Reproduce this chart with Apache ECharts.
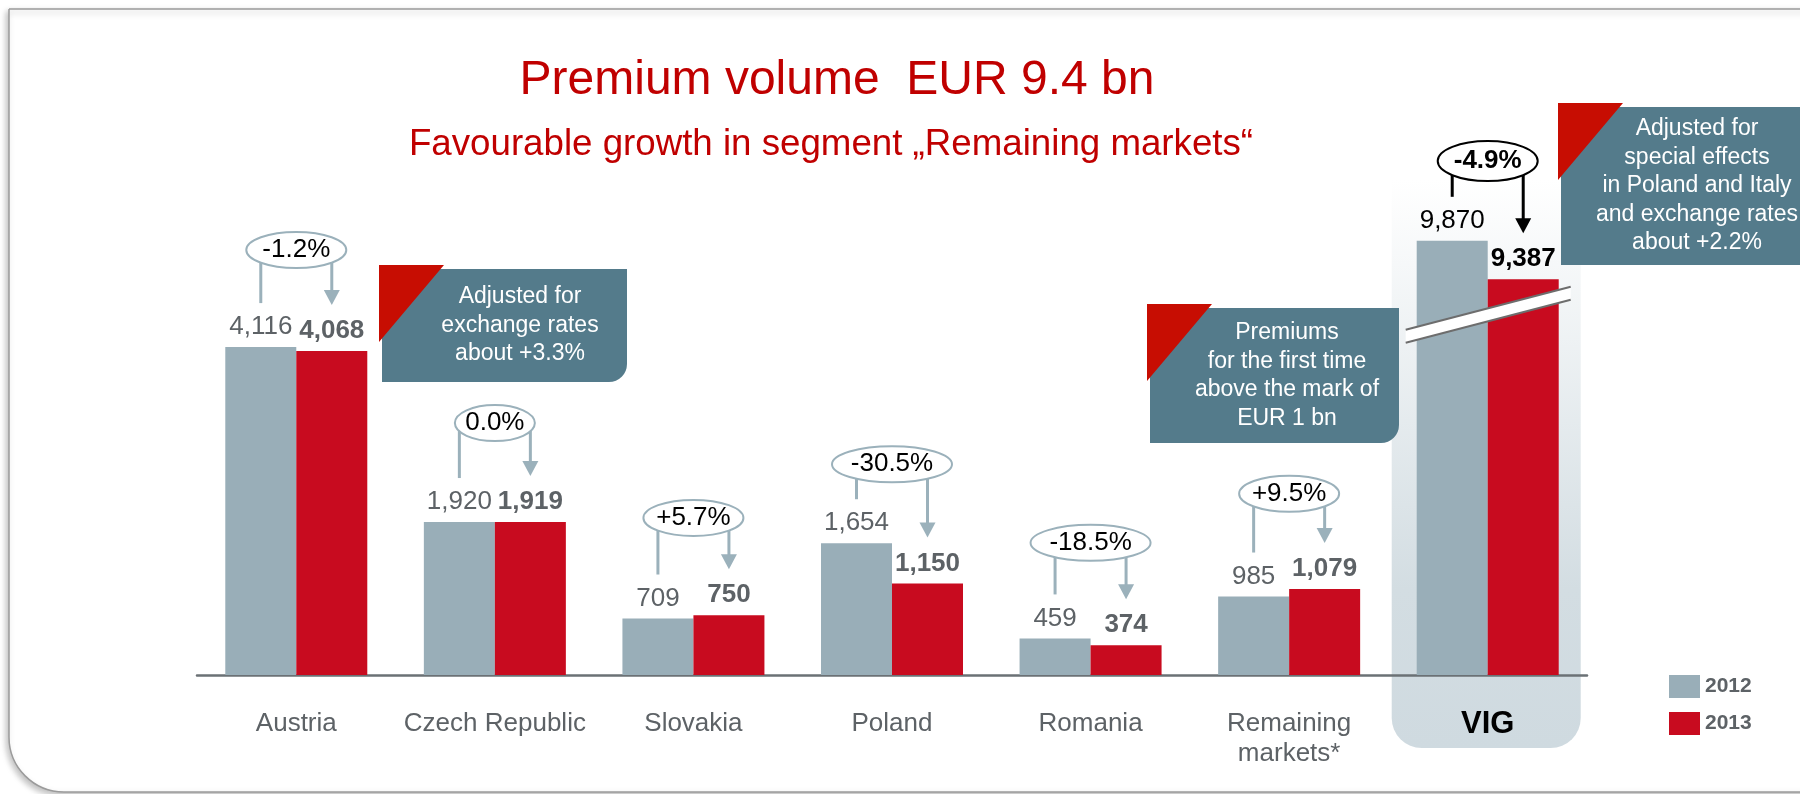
<!DOCTYPE html>
<html>
<head>
<meta charset="utf-8">
<title>Premium volume EUR 9.4 bn</title>
<script src="https://cdn.jsdelivr.net/npm/echarts@6/dist/echarts.min.js"></script>
<style>
  html, body { margin: 0; padding: 0; background: #fff; }
  #chart { width: 1800px; height: 794px; }
</style>
</head>
<body>
<div id="chart"></div>
<script>
// values, EUR mn
var categories = ['Austria', 'Czech Republic', 'Slovakia', 'Poland', 'Romania', 'Remaining\nmarkets*', 'VIG'];
var premiums2012 = [4116, 1920, 709, 1654, 459, 985, 9870];
var premiums2013 = [4068, 1919, 750, 1150, 374, 1079, 9387];
var changePct = [-1.2, 0.0, 5.7, -30.5, -18.5, 9.5, -4.9];
var seriesNames = ['2012', '2013'];
// VIG bars sit on a broken axis: this much is cut out of them
var vigBreak = 4420;
var vigBreakAt = 4520;   // plotted value where the slash is drawn

var font = '"Liberation Sans", Arial, Helvetica, sans-serif';
var grey = '#5d6266';
var teal = '#547b8b';
var red = '#c70d02';
var last = categories.length - 1;

function plotted(v, i) { return i === last ? v - vigBreak : v; }
function fmt(v) { return v.toLocaleString('en-US'); }
function fmtPct(p) { return (p > 0 ? '+' : '') + p.toFixed(1) + '%'; }

function barData(values) {
    return values.map(function (v, i) {
        return { value: plotted(v, i), label: { color: i === last ? '#000' : grey } };
    });
}

var chart = echarts.init(document.getElementById('chart'));
chart.setOption({
    animation: false,
    textStyle: { fontFamily: font },
    color: ['#99aeb8', '#c80b1f'],
    title: [{
        text: 'Premium volume  EUR 9.4 bn',
        left: 832, top: 52, textAlign: 'center',
        textStyle: { fontSize: 48, fontWeight: 'normal', color: '#c00000', fontFamily: font }
    }, {
        text: 'Favourable growth in segment \u201eRemaining markets\u201c',
        left: 826, top: 121, textAlign: 'center',
        textStyle: { fontSize: 36.7, fontWeight: 'normal', color: '#c00000', fontFamily: font }
    }],
    legend: {
        data: seriesNames,
        orient: 'vertical',
        left: 1669, top: 675, padding: 0,
        itemWidth: 31, itemHeight: 23, itemGap: 14,
        icon: 'rect',
        textStyle: { fontSize: 21, fontWeight: 'bold', color: grey, fontFamily: font }
    },
    grid: { left: 197, right: 213, top: 197, bottom: 119 },
    xAxis: {
        type: 'category',
        data: categories,
        axisTick: { show: false },
        axisLine: { lineStyle: { color: '#6b7175', width: 2.5 } },
        axisLabel: {
            interval: 0, margin: 34, fontSize: 26, lineHeight: 30, color: grey,
            formatter: function (v) { return v === 'VIG' ? '{vig|VIG}' : v; },
            rich: { vig: { fontSize: 31, lineHeight: 30, fontWeight: 'bold', color: '#000' } }
        }
    },
    yAxis: { type: 'value', min: 0, max: 6000, show: false },
    series: [{
        name: seriesNames[0], type: 'bar', barWidth: 71, barGap: '0%',
        data: barData(premiums2012),
        label: {
            show: true, position: 'top', distance: 7, fontSize: 26, color: grey,
            formatter: function (p) { return fmt(premiums2012[p.dataIndex]); }
        }
    }, {
        name: seriesNames[1], type: 'bar', barWidth: 71, barGap: '0%',
        data: barData(premiums2013),
        label: {
            show: true, position: 'top', distance: 7, fontSize: 26, fontWeight: 'bold', color: grey,
            formatter: function (p) { return fmt(premiums2013[p.dataIndex]); }
        }
    }]
});

function textEl(txt, x, y, size, weight, color, lh, z) {
    return {
        type: 'text', z: z || 20, silent: true,
        style: {
            text: txt, x: x, y: y,
            font: weight + ' ' + size + 'px ' + font,
            fill: color, lineHeight: lh || size,
            align: 'center', verticalAlign: 'middle',
            textAlign: 'center', textVerticalAlign: 'middle'
        }
    };
}

// teal box with a red corner flag
function callout(x, y, w, h, lines, tx) {
    return [{
        type: 'rect', z: 15, silent: true,
        shape: { x: x, y: y, width: w, height: h, r: [0, 0, 18, 0] },
        style: { fill: teal }
    }, {
        type: 'polygon', z: 16, silent: true,
        shape: { points: [[x - 3, y - 4], [x + 62, y - 4], [x - 3, y + 73]] },
        style: { fill: red }
    }, textEl(lines.join('\n'), tx, y + h / 2, 23, 'normal', '#fff', 28.5, 17)];
}

function buildGraphics() {
    var els = [];
    var px = function (i) { return chart.convertToPixel({ xAxisIndex: 0 }, i); };
    var py = function (v) { return chart.convertToPixel({ yAxisIndex: 0 }, v); };
    var vx = px(last);

    // slide frame
    els.push({
        type: 'rect', z: -20, silent: true,
        shape: { x: 9, y: 9, width: 1900, height: 783, r: [0, 0, 0, 55] },
        style: { fill: '#fff', stroke: '#9b9b9b', lineWidth: 1.5,
                 shadowBlur: 6, shadowColor: 'rgba(0,0,0,0.25)', shadowOffsetX: -2, shadowOffsetY: 3 }
    });
    // VIG highlight column
    els.push({
        type: 'rect', z: -10, silent: true,
        shape: { x: vx - 96, y: 180, width: 189, height: 568, r: [0, 0, 30, 30] },
        style: {
            fill: new echarts.graphic.LinearGradient(0, 0, 0, 1, [
                { offset: 0, color: '#ffffff' },
                { offset: 0.72, color: '#d3dde2' },
                { offset: 1, color: '#cfdae0' }
            ])
        }
    });

    // change bubbles with bracket arrows
    categories.forEach(function (c, i) {
        var isVig = i === last;
        var cx = px(i);
        var y12 = py(plotted(premiums2012[i], i));
        var y13 = py(plotted(premiums2013[i], i));
        var cy = (y12 + y13) / 2 - 99;
        var col = isVig ? '#000' : '#9bb1bb';
        var label = fmtPct(changePct[i]);
        var rx = 10 * label.length;
        var xl = cx - 35.5, xr = cx + 35.5;
        var tip = y13 - 46;
        els.push({
            type: 'line', z: 18, silent: true,
            shape: { x1: xl, y1: cy, x2: xl, y2: y12 - 44 },
            style: { stroke: col, lineWidth: 3 }
        });
        els.push({
            type: 'line', z: 18, silent: true,
            shape: { x1: xr, y1: cy, x2: xr, y2: tip - 13 },
            style: { stroke: col, lineWidth: 3 }
        });
        els.push({
            type: 'polygon', z: 18, silent: true,
            shape: { points: [[xr - 8, tip - 15], [xr + 8, tip - 15], [xr, tip]] },
            style: { fill: col }
        });
        els.push({
            type: 'ellipse', z: 19, silent: true,
            shape: { cx: cx, cy: cy, rx: rx, ry: isVig ? 20 : 18 },
            style: { fill: '#fff', stroke: col, lineWidth: 2 }
        });
        els.push(textEl(label, cx, cy, 26, isVig ? 'bold' : 'normal', '#000', 26, 20));
    });

    // axis break slash across the VIG bars
    var sy = py(vigBreakAt);
    var x1 = vx - 82, x2 = vx + 83, slope = 0.26, half = 6.5;
    var yAt = function (x, d) { return sy - slope * (x - vx) + d; };
    els.push({
        type: 'polygon', z: 12, silent: true,
        shape: { points: [[x1, yAt(x1, -half)], [x2, yAt(x2, -half)], [x2, yAt(x2, half)], [x1, yAt(x1, half)]] },
        style: { fill: '#fff' }
    });
    [-half, half].forEach(function (d) {
        els.push({
            type: 'line', z: 13, silent: true,
            shape: { x1: x1, y1: yAt(x1, d), x2: x2, y2: yAt(x2, d) },
            style: { stroke: '#6d6d6d', lineWidth: 2 }
        });
    });

    // notes
    els = els.concat(callout(382, 269, 245, 113,
        ['Adjusted for', 'exchange rates', 'about +3.3%'], 520));
    els = els.concat(callout(1150, 308, 249, 135,
        ['Premiums', 'for the first time', 'above the mark of', 'EUR 1 bn'], 1287));
    els = els.concat(callout(1561, 107, 260, 158,
        ['Adjusted for', 'special effects', 'in Poland and Italy', 'and exchange rates', 'about +2.2%'], 1697));
    return els;
}

chart.setOption({ graphic: { elements: buildGraphics() } });
window.addEventListener('resize', function () { chart.resize(); });
</script>
</body>
</html>
